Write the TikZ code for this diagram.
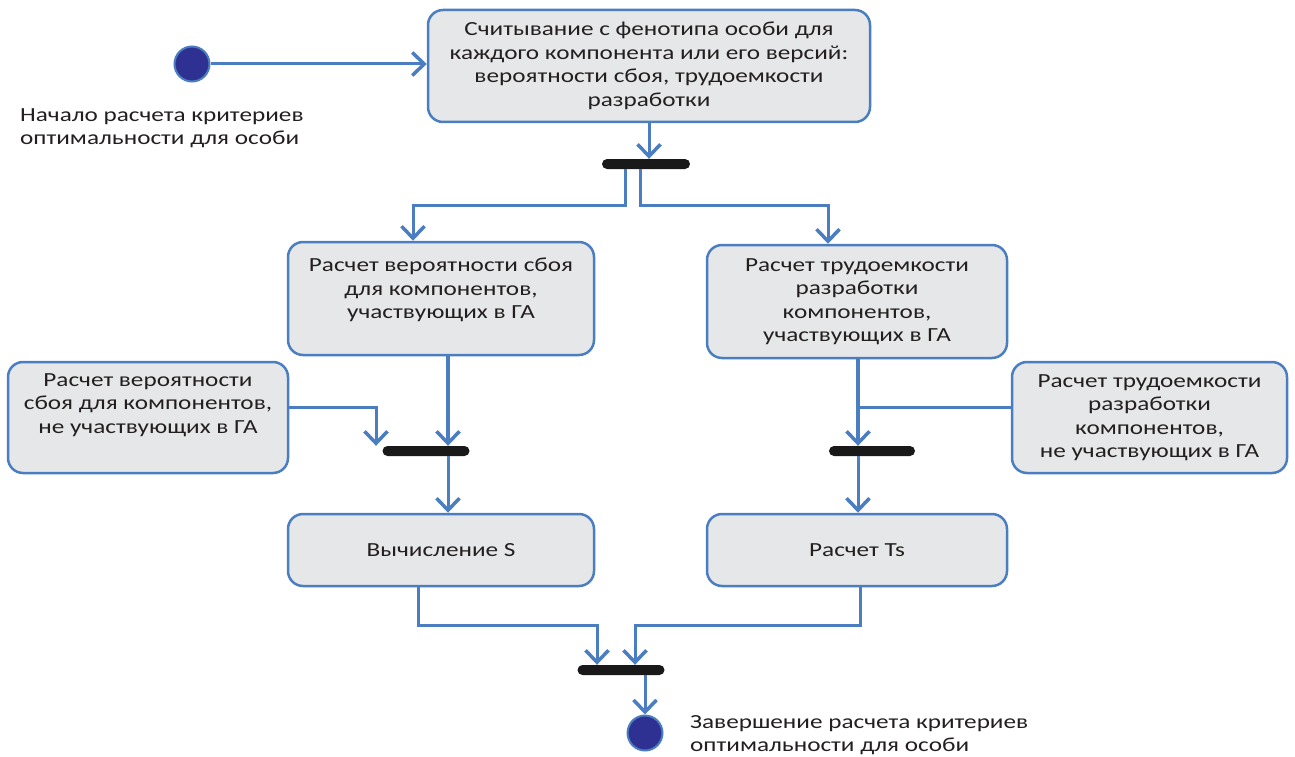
\documentclass[tikz,border=0pt]{standalone}
\usepackage{fontspec}
\setmainfont{Carlito}[FakeStretch=1.26]
\usetikzlibrary{arrows.meta}
\definecolor{lineblue}{RGB}{74,126,192}
\definecolor{boxfill}{RGB}{230,231,232}
\definecolor{dotfill}{RGB}{46,49,146}
\definecolor{txt}{RGB}{35,31,32}
\tikzset{
  act/.style={draw=lineblue, line width=2.5pt, fill=boxfill, rounded corners=15pt, align=center, text=txt, font=\fontsize{20}{23.5}\selectfont, inner sep=4pt},
  barnode/.style={fill=black!90, rounded corners=5pt, minimum height=10pt, inner sep=0pt},
  dot/.style={circle, draw=lineblue, line width=2pt, fill=dotfill, minimum size=35pt, inner sep=0pt},
  lbl/.style={align=left, text=txt, font=\fontsize{20}{23.5}\selectfont, inner sep=0pt},
  conn/.style={draw=lineblue, line width=3pt, -{Straight Barb[length=12pt, width=23pt, line width=3.5pt]}},
  plain/.style={draw=lineblue, line width=2.5pt},
}
\begin{document}
\begin{tikzpicture}[x=1pt, y=-1pt]
\useasboundingbox (0,0) rectangle (1295,757);
% nodes
\node[dot] (start) at (192,64) {};
\node[lbl, anchor=north west] (startlbl) at (20,108) {Начало расчета критериев\\оптимальности для особи};
\node[act, minimum width=442pt, minimum height=112pt] (read) at (649,66) {Считывание с фенотипа особи для\\каждого компонента или его версий:\\вероятности сбоя, трудоемкости\\разработки};
\node[barnode, minimum width=88pt] (fork) at (646,164) {};
\node[act, minimum width=306pt, minimum height=113pt] (pfail) at (441,298.5) {Расчет вероятности сбоя\\для компонентов,\\участвующих в ГА\\[-3.5pt]};
\node[act, minimum width=300pt, minimum height=113pt] (labor) at (857,301.5) {Расчет трудоемкости\\разработки\\компонентов,\\участвующих в ГА};
\node[act, minimum width=280pt, minimum height=111pt] (pfailn) at (148,417.5) {Расчет вероятности\\сбоя для компонентов,\\не участвующих в ГА\\[4.5pt]};
\node[act, minimum width=275pt, minimum height=111pt] (laborn) at (1149.5,417.5) {Расчет трудоемкости\\разработки\\компонентов,\\не участвующих в ГА};
\node[barnode, minimum width=87pt] (joinL) at (426,451) {};
\node[barnode, minimum width=86pt] (joinR) at (872,451) {};
\node[act, minimum width=306pt, minimum height=72pt] (calcS) at (441,550) {Вычисление S};
\node[act, minimum width=300pt, minimum height=72pt] (calcT) at (857,550) {Расчет Ts};
\node[barnode, minimum width=87pt] (joinB) at (621,670) {};
\node[dot] (stop) at (645,733) {};
\node[lbl, anchor=north west] (stoplbl) at (690,715) {Завершение расчета критериев\\оптимальности для особи};
\coordinate (forky) at (0,205);
\coordinate (boty) at (0,625);
% connectors
\draw[conn] (start) -- (start -| read.west);
\draw[conn] (read.south) -- (read.south |- fork.north);
\draw[conn] ([xshift=-21pt]fork.south) -- ([xshift=-21pt]fork.south |- forky) -| ([xshift=-28pt]pfail.north);
\draw[conn] ([xshift=-6pt]fork.south) -- ([xshift=-6pt]fork.south |- forky) -| ([xshift=-29pt]labor.north);
\draw[conn, line width=3.5pt] ([xshift=7pt]pfail.south) -- ([xshift=7pt]pfail.south |- joinL.north);
\draw[conn] ([yshift=10pt]pfailn.east) -| ([xshift=-50pt]joinL.north);
\draw[conn] ([xshift=22pt]joinL.south) -- ([xshift=7pt]calcS.north);
\draw[conn, line width=3.5pt] ([xshift=1pt]labor.south) -- ([xshift=1pt]labor.south |- joinR.north);
\draw[plain] ([yshift=10pt]laborn.west) -- ([yshift=10pt]laborn.west -| labor.south);
\draw[conn] ([xshift=-14pt]joinR.south) -- ([xshift=1pt]calcT.north);
\draw[conn] ([xshift=-23pt]calcS.south) -- ([xshift=-23pt]calcS.south |- boty) -| ([xshift=-24pt]joinB.north);
\draw[conn] ([xshift=3pt]calcT.south) -- ([xshift=3pt]calcT.south |- boty) -| ([xshift=14pt]joinB.north);
\draw[conn] ([xshift=24pt]joinB.south) -- (stop.north);
\end{tikzpicture}
\end{document}
